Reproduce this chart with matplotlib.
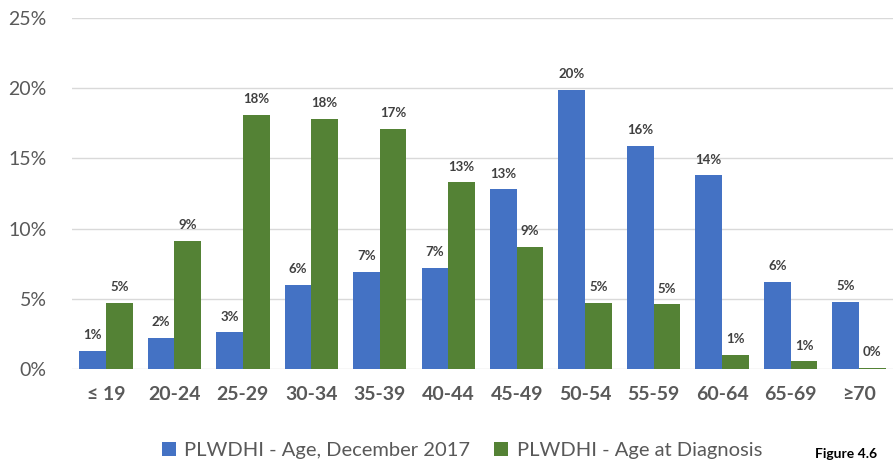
import numpy as np
import matplotlib
matplotlib.use("Agg")
import matplotlib.pyplot as plt

plt.rcParams['font.family'] = ['Lato', 'DejaVu Sans']

ages = ["≤ 19", "20-24", "25-29", "30-34", "35-39", "40-44", "45-49",
        "50-54", "55-59", "60-64", "65-69", "≥70"]
age_dec2017 = [1.3, 2.2, 2.6, 6.0, 6.9, 7.2, 12.8, 19.9, 15.9, 13.8, 6.2, 4.8]
age_diag = [4.7, 9.1, 18.1, 17.8, 17.1, 13.3, 8.7, 4.7, 4.6, 1.0, 0.55, 0.07]
series_names = ["PLWDHI - Age, December 2017", "PLWDHI - Age at Diagnosis"]

blue = "#4472C4"
green = "#548235"
grey = "#595959"

fig = plt.figure(figsize=(8.96, 4.61), dpi=100)
ax = fig.add_axes([0.080, 0.1996, 0.917, 0.7614])

x = np.arange(len(ages))
w = 0.39
b1 = ax.bar(x - w / 2, age_dec2017, w, color=blue, label=series_names[0], zorder=3)
b2 = ax.bar(x + w / 2, age_diag, w, color=green, label=series_names[1], zorder=3)

for bars, vals in [(b1, age_dec2017), (b2, age_diag)]:
    for r, v in zip(bars, vals):
        ax.annotate(f"{round(v)}%", (r.get_x() + r.get_width() / 2, v),
                    xytext=(0, 7), textcoords="offset points", ha="center",
                    va="bottom", fontsize=9.5, fontweight="bold", color="#404040")

ax.set_xlim(-0.5, len(ages) - 0.5)
ax.set_ylim(0, 25)
ax.set_yticks([0, 5, 10, 15, 20, 25])
ax.set_yticklabels([f"{t}%" for t in [0, 5, 10, 15, 20, 25]])
ax.set_xticks(x)
ax.set_xticklabels(ages, fontweight="bold")
ax.tick_params(axis="y", length=0, pad=18, labelsize=14, labelcolor=grey)
ax.tick_params(axis="x", length=0, pad=12, labelsize=14, labelcolor=grey)
ax.grid(axis="y", color="#d9d9d9", linewidth=1, zorder=0)
for s in ax.spines.values():
    s.set_visible(False)

ax.legend(loc="upper center", bbox_to_anchor=(0.475, -0.155), ncol=2, frameon=False,
          fontsize=14.5, labelcolor=grey, handlelength=0.7, handleheight=0.7,
          handletextpad=0.4, columnspacing=1.2)

fig.text(0.91, 0.002, "Figure 4.6", fontsize=10, fontweight="bold", color="black",
         va="bottom")

fig.savefig("out.png", dpi=100)
